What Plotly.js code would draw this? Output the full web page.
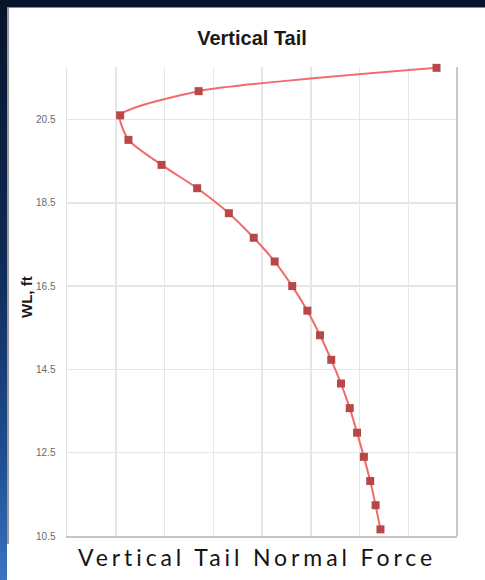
<!DOCTYPE html>
<html>
<head>
<meta charset="utf-8">
<script src="https://cdn.plot.ly/plotly-3.0.1.min.js"></script>
<style>
  html, body { margin: 0; padding: 0; }
  body {
    width: 485px; height: 580px; position: relative; overflow: hidden;
    background: linear-gradient(180deg, #07142b 0%, #0f2a55 45%, #1f4f94 80%, #3a74c0 100%);
  }
  #sheet {
    position: absolute; left: 9px; top: 8px; width: 476px; height: 572px;
    background: #ffffff;
  }
  #bottomstrip {
    position: absolute; left: 7px; top: 544px; width: 478px; height: 36px;
    background: #ffffff;
  }
  #edge {
    position: absolute; left: 7px; top: 7px; width: 2px; height: 537px;
    background: #9a9a9a;
  }
  #topedge {
    position: absolute; left: 7px; top: 7px; width: 478px; height: 1px;
    background: #8a8a8a;
  }
  #chart { position: absolute; left: 0; top: 0; width: 485px; height: 580px; }
  #caption {
    position: absolute; left: 0; width: 514px; top: 543px; text-align: center;
    font-family: Lato, "Open Sans", sans-serif; font-size: 23px; letter-spacing: 3.9px;
    color: #141414;
  }
</style>
</head>
<body>
<div id="sheet"></div>
<div id="bottomstrip"></div>
<div id="edge"></div>
<div id="topedge"></div>
<div id="chart"></div>
<div id="caption">Vertical Tail Normal Force</div>
<script>
// Normal force along the vertical tail (grid units) versus waterline height
const normalForce = [7.58, 2.70, 1.09, 1.26, 1.94, 2.67, 3.32, 3.83, 4.26, 4.62,
                     4.93, 5.19, 5.42, 5.62, 5.80, 5.95, 6.09, 6.22, 6.33, 6.43];
const waterline   = [21.74, 21.18, 20.60, 20.01, 19.41, 18.85, 18.25, 17.66, 17.09, 16.50,
                     15.91, 15.32, 14.73, 14.16, 13.57, 12.98, 12.40, 11.82, 11.24, 10.66];
const yTicks = [10.5, 12.5, 14.5, 16.5, 18.5, 20.5];
const yTickText = ['10.5', '12.5', '14.5', '16.5', '18.5', '20.5'];

const trace = {
  x: normalForce,
  y: waterline,
  type: 'scatter',
  mode: 'lines+markers',
  line: { color: '#f26a6a', width: 2, shape: 'spline', smoothing: 0.6 },
  marker: { symbol: 'square', size: 8, color: '#b84848' },
  cliponaxis: false,
  hoverinfo: 'x+y'
};

const layout = {
  width: 485, height: 580,
  margin: { l: 67, r: 28, t: 67, b: 44 },
  paper_bgcolor: 'rgba(0,0,0,0)',
  plot_bgcolor: 'rgba(0,0,0,0)',
  showlegend: false,
  title: {
    text: '<b>Vertical Tail</b>',
    font: { family: 'Liberation Sans, Arial, sans-serif', size: 20, color: '#1a1a1a' },
    x: (252 - 67) / 390, xref: 'paper', xanchor: 'center',
    y: 1 - 38 / 580, yref: 'container', yanchor: 'middle'
  },
  xaxis: {
    range: [0, 8], dtick: 1, tick0: 0,
    showticklabels: false, ticks: '',
    showgrid: true, gridcolor: '#e6e6e6', gridwidth: 1.5,
    zeroline: false,
    showline: true, linecolor: '#c4c4c4', linewidth: 2,
    fixedrange: true
  },
  yaxis: {
    range: [10.5, 21.76],
    tickvals: yTicks, ticktext: yTickText,
    tickfont: { family: 'Liberation Sans, Arial, sans-serif', size: 10, color: '#6a6a6a' },
    ticks: '', ticklabelstandoff: 8,
    showgrid: true, gridcolor: '#e6e6e6', gridwidth: 1.5,
    zeroline: false,
    showline: true, linecolor: '#e2e2e2', linewidth: 1.5,
    fixedrange: true
  },
  shapes: [
    { type: 'line', xref: 'paper', yref: 'paper', x0: 1, x1: 1, y0: 0, y1: 1,
      line: { color: '#c8c8c8', width: 2 } }
  ],
  annotations: [
    { text: '<b>WL, ft</b>', textangle: -90, showarrow: false,
      xref: 'paper', yref: 'paper', x: (26 - 67) / 390, y: (536 - 297) / 469,
      xanchor: 'center', yanchor: 'middle',
      font: { family: 'Liberation Sans, Arial, sans-serif', size: 15, color: '#1a1a1a' } }
  ]
};

Plotly.newPlot('chart', [trace], layout, { displayModeBar: false, staticPlot: true });
</script>
</body>
</html>
